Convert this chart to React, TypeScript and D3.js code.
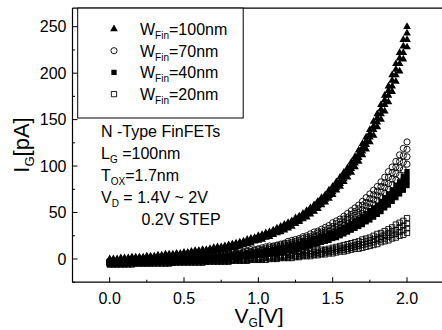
import React from "react";
import * as d3 from "d3";

// Gate voltage grid (V)
const VG = [0,0.025,0.05,0.075,0.1,0.125,0.15,0.175,0.2,0.225,0.25,0.275,0.3,0.325,0.35,0.375,0.4,0.425,0.45,0.475,0.5,0.525,0.55,0.575,0.6,0.625,0.65,0.675,0.7,0.725,0.75,0.775,0.8,0.825,0.85,0.875,0.9,0.925,0.95,0.975,1,1.025,1.05,1.075,1.1,1.125,1.15,1.175,1.2,1.225,1.25,1.275,1.3,1.325,1.35,1.375,1.4,1.425,1.45,1.475,1.5,1.525,1.55,1.575,1.6,1.625,1.65,1.675,1.7,1.725,1.75,1.775,1.8,1.825,1.85,1.875,1.9,1.925,1.95,1.975,2];

// WFin = 100nm, VD = 2.0, 1.8, 1.6, 1.4 V
const W100_A = [0,0,0,1,1,1,2,2,2,2,3,3,3,4,4,5,5,5,6,6,7,7,8,9,9,10,10,11,12,13,13,14,15,16,17,18,19,21,22,23,25,26,28,29,31,33,35,37,39,41,44,46,49,52,55,58,62,66,69,74,78,83,88,93,98,104,110,117,124,131,139,148,156,166,176,186,198,210,222,236,250];
const W100_B = [-1,-1,-1,0,0,0,1,1,1,1,2,2,2,3,3,4,4,4,5,5,6,6,7,7,8,9,9,10,11,11,12,13,14,15,16,17,18,19,20,22,23,24,26,28,29,31,33,35,37,39,42,44,47,50,53,56,59,63,67,71,75,80,84,90,95,101,107,113,120,127,135,143,152,161,171,181,192,204,216,229,243];
const W100_C = [-2,-2,-2,-1,-1,-1,0,0,0,0,1,1,1,2,2,2,3,3,4,4,5,5,6,6,7,7,8,9,9,10,11,12,13,14,15,16,17,18,19,20,22,23,24,26,28,29,31,33,35,38,40,42,45,48,51,54,57,61,64,68,72,77,81,86,92,97,103,109,116,123,131,139,147,156,166,176,186,198,210,222,236];
const W100_D = [-3,-3,-3,-2,-2,-2,-2,-1,-1,-1,0,0,0,1,1,1,2,2,3,3,4,4,5,5,6,6,7,8,8,9,10,10,11,12,13,14,15,16,17,19,20,21,23,24,26,28,29,31,33,35,38,40,43,45,48,51,54,58,61,65,69,74,78,83,88,93,99,105,112,118,126,133,142,150,159,169,180,191,202,215,228];

// WFin = 70nm
const W70_A = [-2,-2,-2,-2,-1,-1,-1,-1,-1,-1,0,0,0,0,0,1,1,1,1,2,2,2,2,3,3,3,4,4,5,5,5,6,6,7,7,8,8,9,10,10,11,12,13,14,14,15,16,17,19,20,21,22,24,25,27,29,30,32,34,36,39,41,43,46,49,52,55,58,62,66,70,74,78,83,88,94,99,105,112,119,126];
const W70_B = [-3,-3,-3,-3,-2,-2,-2,-2,-2,-2,-1,-1,-1,-1,-1,0,0,0,0,0,1,1,1,2,2,2,3,3,3,4,4,4,5,5,6,6,7,8,8,9,10,10,11,12,13,14,15,16,17,18,19,20,22,23,24,26,28,29,31,33,35,38,40,43,45,48,51,54,58,61,65,69,73,78,82,88,93,99,105,111,118];
const W70_C = [-4,-4,-4,-4,-3,-3,-3,-3,-3,-3,-3,-2,-2,-2,-2,-2,-1,-1,-1,-1,0,0,0,0,1,1,1,2,2,2,3,3,4,4,5,5,6,6,7,7,8,9,9,10,11,12,13,14,15,16,17,18,19,21,22,24,25,27,29,30,32,34,37,39,42,44,47,50,53,57,60,64,68,72,77,81,86,92,98,104,110];
const W70_D = [-5,-5,-5,-5,-4,-4,-4,-4,-4,-4,-4,-3,-3,-3,-3,-3,-2,-2,-2,-2,-2,-1,-1,-1,0,0,0,0,1,1,1,2,2,3,3,4,4,5,5,6,6,7,8,8,9,10,11,12,13,14,15,16,17,18,20,21,22,24,26,27,29,31,33,36,38,40,43,46,49,52,55,59,63,67,71,75,80,85,90,96,102];

// WFin = 40nm
const W40_A = [-3,-3,-3,-3,-2,-2,-2,-2,-2,-2,-2,-1,-1,-1,-1,-1,-1,0,0,0,0,0,1,1,1,2,2,2,2,3,3,3,4,4,5,5,5,6,6,7,8,8,9,9,10,11,12,12,13,14,15,16,17,18,20,21,22,24,25,27,28,30,32,34,36,38,41,43,46,49,52,55,58,62,66,70,74,79,83,89,94];
const W40_B = [-4,-4,-4,-4,-4,-3,-3,-3,-3,-3,-3,-3,-2,-2,-2,-2,-2,-1,-1,-1,-1,-1,0,0,0,0,1,1,1,2,2,2,3,3,3,4,4,5,5,6,6,7,7,8,9,9,10,11,12,13,14,14,16,17,18,19,20,22,23,25,26,28,30,32,34,36,38,41,43,46,49,52,55,58,62,66,70,74,79,84,89];
const W40_C = [-5,-5,-5,-5,-5,-4,-4,-4,-4,-4,-4,-4,-3,-3,-3,-3,-3,-3,-2,-2,-2,-2,-1,-1,-1,-1,0,0,0,0,1,1,1,2,2,3,3,3,4,4,5,5,6,7,7,8,9,9,10,11,12,13,14,15,16,17,18,20,21,22,24,26,27,29,31,33,35,38,40,43,46,48,52,55,58,62,66,70,74,79,84];
const W40_D = [-6,-6,-6,-6,-6,-5,-5,-5,-5,-5,-5,-5,-4,-4,-4,-4,-4,-4,-3,-3,-3,-3,-3,-2,-2,-2,-2,-1,-1,-1,0,0,0,1,1,1,2,2,3,3,4,4,5,5,6,6,7,8,9,9,10,11,12,13,14,15,16,18,19,20,22,23,25,27,29,31,33,35,37,40,42,45,48,51,55,58,62,66,70,74,79];

// WFin = 20nm
const W20_A = [-3,-3,-3,-3,-3,-3,-3,-3,-3,-2,-2,-2,-2,-2,-2,-2,-2,-2,-2,-2,-1,-1,-1,-1,-1,-1,-1,-1,0,0,0,0,0,0,1,1,1,1,1,2,2,2,3,3,3,4,4,4,5,5,6,6,7,7,8,8,9,10,10,11,12,13,14,15,16,17,18,19,21,22,23,25,27,28,30,32,34,37,39,41,44];
const W20_B = [-4,-4,-4,-4,-4,-4,-4,-4,-3,-3,-3,-3,-3,-3,-3,-3,-3,-3,-3,-2,-2,-2,-2,-2,-2,-2,-2,-1,-1,-1,-1,-1,-1,-1,0,0,0,0,1,1,1,1,2,2,2,2,3,3,4,4,4,5,5,6,6,7,7,8,9,9,10,11,12,12,13,14,15,16,18,19,20,21,23,24,26,28,30,31,34,36,38];
const W20_C = [-5,-5,-5,-5,-5,-5,-5,-4,-4,-4,-4,-4,-4,-4,-4,-4,-4,-4,-3,-3,-3,-3,-3,-3,-3,-3,-3,-2,-2,-2,-2,-2,-2,-1,-1,-1,-1,-1,0,0,0,0,1,1,1,1,2,2,2,3,3,3,4,4,5,5,6,6,7,8,8,9,10,10,11,12,13,14,15,16,17,18,20,21,22,24,26,27,29,31,33];
const W20_D = [-6,-6,-6,-6,-6,-6,-6,-5,-5,-5,-5,-5,-5,-5,-5,-5,-5,-4,-4,-4,-4,-4,-4,-4,-4,-4,-3,-3,-3,-3,-3,-3,-3,-2,-2,-2,-2,-2,-1,-1,-1,-1,-1,0,0,0,1,1,1,1,2,2,3,3,3,4,4,5,5,6,6,7,8,8,9,10,11,11,12,13,14,15,16,18,19,20,22,23,25,26,28];

const LEGEND_LABELS = ["=100nm", "=70nm", "=40nm", "=20nm"];
const X_TICKS = [0, 0.5, 1.0, 1.5, 2.0];
const X_MINOR = [-0.25, 0.25, 0.75, 1.25, 1.75, 2.25];
const Y_TICKS = [0, 50, 100, 150, 200, 250];
const Y_MINOR = [-25, 25, 75, 125, 175, 225];

const SERIES = [
  { kind: "triangle", curves: [W100_A, W100_B, W100_C, W100_D] },
  { kind: "circle", curves: [W70_A, W70_B, W70_C, W70_D] },
  { kind: "fsquare", curves: [W40_A, W40_B, W40_C, W40_D] },
  { kind: "osquare", curves: [W20_A, W20_B, W20_C, W20_D] },
];

const FONT = "'Liberation Sans', Arial, Helvetica, sans-serif";

function markerPath(kind: string) {
  if (kind === "triangle") return d3.symbol(d3.symbolTriangle, 26)()!;
  if (kind === "circle") return d3.symbol(d3.symbolCircle, 30)()!;
  return d3.symbol(d3.symbolSquare, 28)()!;
}
function markerStyle(kind: string) {
  if (kind === "triangle" || kind === "fsquare") return { fill: "#000", stroke: "none" };
  return { fill: "none", stroke: "#000", strokeWidth: 0.9 };
}

export default function App() {
  const W = 442, H = 330;
  const x = d3.scaleLinear().domain([-0.25, 2.25]).range([72.5, 444.2]);
  const y = d3.scaleLinear().domain([-25, 270]).range([282.2, 8.1]);
  const x0 = x(-0.25), x1 = x(2.25), yb = y(-25), yt = y(270);

  return (
    <svg width={W} height={H} style={{ position: "absolute", left: 0, top: 0, background: "#fff" }} fontFamily={FONT}>
      <rect x={0} y={0} width={W} height={H} fill="#fff" />
      {/* data */}
      {SERIES.map((s, si) => {
        const d = markerPath(s.kind);
        const st = markerStyle(s.kind);
        return (
          <g key={si}>
            {s.curves.map((c, ci) =>
              c.map((v, i) => (
                <path key={ci + "-" + i} d={d} transform={`translate(${x(VG[i])},${y(v)})`} {...st} />
              ))
            )}
          </g>
        );
      })}
      {/* frame */}
      <line x1={x0} x2={x0} y1={yt} y2={yb} stroke="#000" strokeWidth={1.2} />
      <line x1={x0} x2={x1} y1={yb} y2={yb} stroke="#000" strokeWidth={1.2} />
      <line x1={x0} x2={x1} y1={yt} y2={yt} stroke="#000" strokeWidth={1.2} />
      {/* x ticks */}
      {X_TICKS.map((t) => (
        <g key={"xt" + t}>
          <line x1={x(t)} x2={x(t)} y1={yb} y2={yb - 5} stroke="#000" strokeWidth={1} />
          <text x={x(t)} y={303.5} textAnchor="middle" fontSize={16}>{t.toFixed(1)}</text>
        </g>
      ))}
      {X_MINOR.map((t) => (
        <line key={"xm" + t} x1={x(t)} x2={x(t)} y1={yb} y2={yb - 2.5} stroke="#000" strokeWidth={1} />
      ))}
      {/* y ticks */}
      {Y_TICKS.map((t) => (
        <g key={"yt" + t}>
          <line x1={x0} x2={x0 + 5} y1={y(t)} y2={y(t)} stroke="#000" strokeWidth={1} />
          <text x={x0 - 6} y={y(t) + 5.8} textAnchor="end" fontSize={16}>{t}</text>
        </g>
      ))}
      {Y_MINOR.map((t) => (
        <line key={"ym" + t} x1={x0} x2={x0 + 2.5} y1={y(t)} y2={y(t)} stroke="#000" strokeWidth={1} />
      ))}
      {/* legend */}
      <rect x={77.7} y={yt} width={165.5} height={118 - yt} fill="#fff" stroke="#000" strokeWidth={1} />
      {SERIES.map((s, i) => {
        const cy = 29 + i * 21.7;
        return (
          <g key={"lg" + i}>
            <path d={markerPath(s.kind)} transform={`translate(114,${cy})`} {...markerStyle(s.kind)} />
            <text x={140} y={cy + 6} fontSize={16}>
              W<tspan dy={4} fontSize={10}>Fin</tspan><tspan dy={-4}>{LEGEND_LABELS[i]}</tspan>
            </text>
          </g>
        );
      })}
      {/* annotation */}
      <g fontSize={16}>
        <text x={101} y={137}>N -Type FinFETs</text>
        <text x={101} y={159}>L<tspan dy={4} fontSize={10}>G</tspan><tspan dy={-4}> =100nm</tspan></text>
        <text x={101} y={181}>T<tspan dy={4} fontSize={10}>OX</tspan><tspan dy={-4}>=1.7nm</tspan></text>
        <text x={101} y={203}>V<tspan dy={4} fontSize={10}>D</tspan><tspan dy={-4}> = 1.4V ~ 2V</tspan></text>
        <text x={141.5} y={225}>0.2V STEP</text>
      </g>
      {/* axis labels */}
      <text x={259} y={323} textAnchor="middle" fontSize={21}>
        V<tspan dy={4} fontSize={12}>G</tspan><tspan dy={-4}>[V]</tspan>
      </text>
      <text transform="translate(29,145) rotate(-90)" textAnchor="middle" fontSize={22}>
        I<tspan dy={5} fontSize={13}>G</tspan><tspan dy={-5}>[pA]</tspan>
      </text>
    </svg>
  );
}
